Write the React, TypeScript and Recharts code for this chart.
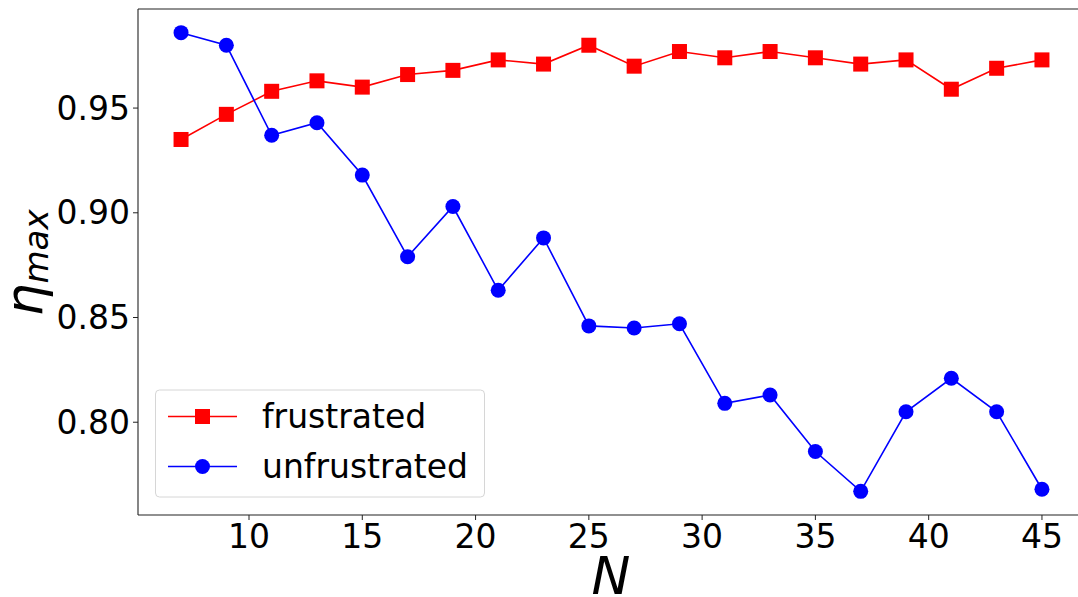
import { LineChart, Line, XAxis, YAxis, ReferenceLine } from 'recharts'

const sizes = [7, 9, 11, 13, 15, 17, 19, 21, 23, 25, 27, 29, 31, 33, 35, 37, 39, 41, 43, 45]
const frustrated = [
  0.935, 0.947, 0.958, 0.963, 0.96, 0.966, 0.968, 0.973, 0.971, 0.98,
  0.97, 0.977, 0.974, 0.977, 0.974, 0.971, 0.973, 0.959, 0.969, 0.973,
]
const unfrustrated = [
  0.986, 0.98, 0.937, 0.943, 0.918, 0.879, 0.903, 0.863, 0.888, 0.846,
  0.845, 0.847, 0.809, 0.813, 0.786, 0.767, 0.805, 0.821, 0.805, 0.768,
]
const xTicks = [10, 15, 20, 25, 30, 35, 40, 45]
const yTicks = [0.8, 0.85, 0.9, 0.95]

const X_DOMAIN: [number, number] = [5.1, 46.9]
const Y_DOMAIN: [number, number] = [0.7557, 0.9973]

const data = sizes.map((n, i) => ({
  n,
  frustrated: frustrated[i],
  unfrustrated: unfrustrated[i],
}))

const FONT = "'DejaVu Sans', sans-serif"
const RED = '#ff0000'
const BLUE = '#0000ff'
const SPINE = '#222'

const Square = (p: any) => (
  <rect key={`s${p.index}`} x={p.cx - 7.5} y={p.cy - 7.5} width={15} height={15} fill={RED} />
)
const Circle = (p: any) => (
  <circle key={`c${p.index}`} cx={p.cx} cy={p.cy} r={7.5} fill={BLUE} />
)

const tickStyle = { fill: '#000', fontSize: 33, fontFamily: FONT }

export default function App() {
  return (
    <div
      style={{
        position: 'absolute',
        left: 0,
        top: 0,
        width: 1078,
        height: 597,
        overflow: 'hidden',
        background: '#fff',
      }}
    >
      <LineChart
        width={1086}
        height={597}
        data={data}
        margin={{ top: 9, right: 1, bottom: 0, left: 0 }}
      >
        <XAxis
          dataKey='n'
          type='number'
          domain={X_DOMAIN}
          ticks={xTicks}
          height={82}
          tick={tickStyle}
          tickSize={5}
          tickMargin={5}
          stroke={SPINE}
          axisLine={{ stroke: SPINE, strokeWidth: 1.1 }}
          tickLine={{ stroke: SPINE }}
          allowDataOverflow
        />
        <YAxis
          type='number'
          domain={Y_DOMAIN}
          ticks={yTicks}
          width={138}
          tick={tickStyle}
          tickFormatter={(v: number) => v.toFixed(2)}
          tickSize={5}
          tickMargin={3}
          stroke={SPINE}
          axisLine={{ stroke: SPINE, strokeWidth: 1.1 }}
          tickLine={{ stroke: SPINE }}
          allowDataOverflow
        />
        <ReferenceLine y={Y_DOMAIN[1]} stroke={SPINE} strokeWidth={1.1} />
        <ReferenceLine x={X_DOMAIN[1]} stroke={SPINE} strokeWidth={1.1} />
        <Line
          dataKey='frustrated'
          stroke={RED}
          strokeWidth={1.6}
          dot={Square}
          activeDot={false}
          isAnimationActive={false}
        />
        <Line
          dataKey='unfrustrated'
          stroke={BLUE}
          strokeWidth={1.6}
          dot={Circle}
          activeDot={false}
          isAnimationActive={false}
        />
      </LineChart>

      {/* axis titles and legend, matplotlib style */}
      <svg
        width={1078}
        height={597}
        style={{ position: 'absolute', left: 0, top: 0, pointerEvents: 'none' }}
      >
        <text
          transform='translate(41.5, 263) rotate(-90)'
          textAnchor='middle'
          fontFamily={FONT}
          fontStyle='italic'
          fill='#000'
        >
          <tspan fontSize={52}>η</tspan>
          <tspan fontSize={34} dy={6}>max</tspan>
        </text>
        <text x={611} y={594} textAnchor='middle' fontFamily={FONT} fontStyle='italic' fontSize={52} fill='#000'>
          N
        </text>

        <rect x={155.5} y={390} width={329} height={107} rx={4} fill='#fff' fillOpacity={0.8} stroke='#d6d6d6' strokeWidth={1} />
        <line x1={168} x2={237} y1={416.5} y2={416.5} stroke={RED} strokeWidth={1.6} />
        <rect x={195} y={409} width={15} height={15} fill={RED} />
        <text x={262} y={428} fontFamily={FONT} fontSize={33} fill='#000'>frustrated</text>
        <line x1={168} x2={237} y1={466.5} y2={466.5} stroke={BLUE} strokeWidth={1.6} />
        <circle cx={202.5} cy={466.5} r={7.5} fill={BLUE} />
        <text x={262} y={478} fontFamily={FONT} fontSize={33} fill='#000'>unfrustrated</text>
      </svg>
    </div>
  )
}
